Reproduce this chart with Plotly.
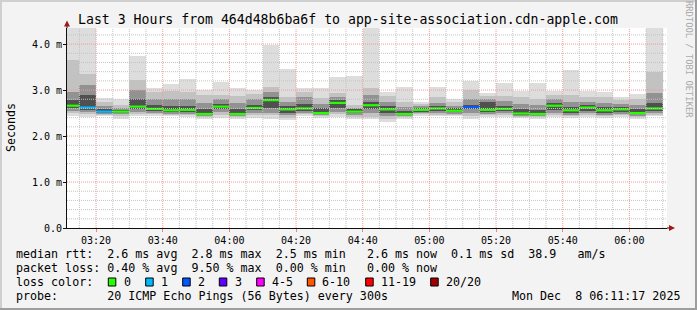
import plotly.graph_objects as go
import pandas as pd

# ---------------- data ----------------
bin_starts = pd.date_range("2025-12-08 03:10:00", periods=36, freq="5min")

ping_max = [4.6, 4.6, 2.82, 2.8, 3.74, 3.04, 3.13, 3.24, 3.0, 3.18, 3.04, 3.0,
            3.98, 3.46, 3.04, 3.04, 3.29, 3.31, 4.6, 2.96, 3.06, 2.74, 3.06, 2.8,
            3.2, 2.93, 3.15, 2.98, 3.15, 2.98, 3.43, 2.98, 2.96, 2.84, 2.91, 4.6]
upper2 = [3.65, 3.35, 2.75, 2.68, 3.22, 2.95, 2.98, 2.95, 2.9, 2.9, 2.88, 2.92,
          3.07, 2.85, 2.95, 2.82, 2.93, 2.68, 3.04, 2.88, 2.75, 2.7, 2.84, 2.74,
          3.0, 2.87, 2.88, 2.85, 2.8, 2.9, 2.89, 2.84, 2.85, 2.78, 2.8, 3.4]
upper3 = [2.95, 3.1, 2.65, 2.6, 3.0, 2.8, 2.8, 2.8, 2.72, 2.8, 2.72, 2.8,
          2.95, 2.74, 2.85, 2.7, 2.85, 2.62, 2.9, 2.75, 2.64, 2.66, 2.72, 2.66,
          2.8, 2.8, 2.76, 2.7, 2.68, 2.8, 2.73, 2.74, 2.72, 2.7, 2.68, 2.94]
upper4 = [2.78, 2.9, 2.58, 2.56, 2.8, 2.68, 2.65, 2.66, 2.58, 2.7, 2.58, 2.68,
          2.85, 2.65, 2.7, 2.6, 2.78, 2.58, 2.75, 2.65, 2.55, 2.61, 2.65, 2.6,
          2.68, 2.73, 2.66, 2.58, 2.57, 2.72, 2.63, 2.67, 2.63, 2.64, 2.58, 2.72]
median_rtt = [2.66, 2.62, 2.53, 2.53, 2.64, 2.59, 2.56, 2.57, 2.48, 2.64, 2.48, 2.61,
              2.78, 2.58, 2.6, 2.5, 2.72, 2.53, 2.67, 2.58, 2.48, 2.57, 2.6, 2.55,
              2.63, 2.57, 2.59, 2.49, 2.48, 2.66, 2.56, 2.62, 2.56, 2.58, 2.5, 2.6]
lower4 = [2.6, 2.57, 2.5, 2.5, 2.58, 2.55, 2.52, 2.53, 2.45, 2.58, 2.45, 2.56,
          2.6, 2.5, 2.55, 2.47, 2.6, 2.5, 2.58, 2.5, 2.45, 2.53, 2.55, 2.52,
          2.58, 2.52, 2.54, 2.46, 2.45, 2.56, 2.5, 2.55, 2.5, 2.53, 2.47, 2.54]
lower3 = [2.55, 2.52, 2.48, 2.47, 2.53, 2.51, 2.49, 2.49, 2.43, 2.52, 2.43, 2.5,
          2.5, 2.46, 2.5, 2.45, 2.52, 2.46, 2.5, 2.43, 2.43, 2.5, 2.5, 2.49,
          2.5, 2.48, 2.5, 2.44, 2.43, 2.5, 2.46, 2.5, 2.46, 2.49, 2.44, 2.5]
lower2 = [2.5, 2.47, 2.46, 2.43, 2.48, 2.48, 2.46, 2.45, 2.41, 2.46, 2.41, 2.45,
          2.45, 2.4, 2.47, 2.43, 2.47, 2.42, 2.42, 2.37, 2.41, 2.47, 2.46, 2.46,
          2.43, 2.45, 2.46, 2.42, 2.41, 2.45, 2.43, 2.45, 2.43, 2.45, 2.41, 2.46]
ping_min = [2.44, 2.42, 2.44, 2.38, 2.44, 2.44, 2.43, 2.42, 2.38, 2.4, 2.38, 2.4,
            2.38, 2.35, 2.43, 2.4, 2.42, 2.38, 2.36, 2.31, 2.38, 2.44, 2.43, 2.43,
            2.37, 2.42, 2.42, 2.39, 2.38, 2.41, 2.4, 2.42, 2.4, 2.42, 2.38, 2.43]
loss_count = [0, 1, 1, 0, 0, 0, 0, 0, 0, 0, 0, 0,
              0, 0, 0, 0, 0, 0, 0, 0, 0, 0, 0, 0,
              2, 0, 0, 0, 0, 0, 0, 0, 0, 0, 0, 0]

loss_labels = ["0", "1", "2", "3", "4-5", "6-10", "11-19", "20/20"]
loss_colors = ["#26ff00", "#00b8ff", "#0059ff", "#5e00ff", "#ff00ff", "#ff5500", "#ff0000", "#a10000"]

y_tick_vals = [0, 1, 2, 3, 4]
y_tick_text = ["0.0", "1.0 m", "2.0 m", "3.0 m", "4.0 m"]
x_tick_vals = pd.date_range("2025-12-08 03:20", periods=9, freq="20min")
x_tick_text = [t.strftime("%H:%M") for t in x_tick_vals]

title_text = "Last 3 Hours from 464d48b6ba6f to app-site-association.cdn-apple.com"
legend_lines = [
    "median rtt:  2.6 ms avg  2.8 ms max  2.5 ms min   2.6 ms now  0.1 ms sd  38.9   am/s",
    "packet loss: 0.40 % avg  9.50 % max  0.00 % min   0.00 % now",
    "loss color:",
    "probe:       20 ICMP Echo Pings (56 Bytes) every 300s",
]
date_text = "Mon Dec  8 06:11:17 2025"
y_title = "Seconds"
side_text = "RRDTOOL / TOBI OETIKER"

# ---------------- layout constants ----------------
W, H = 697, 310
L, R, T, B = 67, 30, 28, 82
PW, PH = W - L - R, H - T - B
FONT = "DejaVu Sans Mono"
x_range = ["2025-12-08 03:11:17", "2025-12-08 06:11:17"]
y_range = [0, 4.35]


def px(x):
    return (x - L) / PW


def py(y):
    return (H - B - y) / PH


BIN_MS = 5 * 60 * 1000
centers = bin_starts + pd.Timedelta(minutes=2.5)

fig = go.Figure()

bands = [
    (ping_min, ping_max, "#dddddd"),
    (lower2, upper2, "#c2c2c2"),
    (lower3, upper3, "#929292"),
    (lower4, upper4, "#505050"),
]
for lo, hi, col in bands:
    fig.add_trace(go.Bar(
        x=centers, y=[h - l for l, h in zip(lo, hi)], base=lo,
        width=BIN_MS, marker=dict(color=col, line=dict(width=0)),
        hoverinfo="skip", showlegend=False,
    ))


def loss_index(n):
    if n <= 3:
        return n
    if n <= 5:
        return 4
    if n <= 10:
        return 5
    if n <= 19:
        return 6
    return 7


groups = {}
for s, m, n in zip(bin_starts, median_rtt, loss_count):
    k = loss_index(n)
    gx, gy = groups.setdefault(k, ([], []))
    gx += [s, s + pd.Timedelta(minutes=5), None]
    gy += [m, m, None]
for k, (gx, gy) in groups.items():
    fig.add_trace(go.Scatter(x=gx, y=gy, mode="lines",
                             line=dict(color=loss_colors[k], width=2.2),
                             hoverinfo="skip", showlegend=False))

shapes = []
GRID = "#c4c4c4"
MGRID = "#f29a9a"
DASH = "1px,1px"
# horizontal grid lines
for i in range(1, 22):
    v = i * 0.2
    major = i % 5 == 0
    shapes.append(dict(type="line", xref="paper", yref="y", x0=0, x1=1, y0=v, y1=v,
                       layer="above",
                       line=dict(color=MGRID if major else GRID, width=1, dash=DASH)))
# vertical grid lines
major_set = set(x_tick_vals)
for t in pd.date_range("2025-12-08 03:15", "2025-12-08 06:10", freq="5min"):
    major = t in major_set
    shapes.append(dict(type="line", xref="x", yref="paper", x0=t, x1=t, y0=0, y1=1,
                       layer="above",
                       line=dict(color=MGRID if major else GRID, width=1, dash=DASH)))

# axis extensions and arrows
ARROW = "#a01818"
shapes.append(dict(type="line", xref="paper", yref="paper", x0=0, x1=0, y0=1, y1=py(25),
                   line=dict(color="#101010", width=1)))
shapes.append(dict(type="path", xref="paper", yref="paper",
                   path=f"M {px(64)} {py(26.5)} L {px(70)} {py(26.5)} L {px(67)} {py(20.5)} Z",
                   fillcolor=ARROW, line=dict(width=0)))
shapes.append(dict(type="line", xref="paper", yref="paper", x0=1, x1=px(670), y0=0, y1=0,
                   line=dict(color="#101010", width=1)))
shapes.append(dict(type="path", xref="paper", yref="paper",
                   path=f"M {px(669)} {py(225)} L {px(669)} {py(231)} L {px(675)} {py(228)} Z",
                   fillcolor=ARROW, line=dict(width=0)))

# outer frame (rrdtool shade)
shapes += [
    dict(type="rect", xref="paper", yref="paper", x0=px(0), x1=px(W), y0=py(0), y1=py(2),
         fillcolor="#cfcfcf", line=dict(width=0), layer="below"),
    dict(type="rect", xref="paper", yref="paper", x0=px(0), x1=px(2), y0=py(0), y1=py(H),
         fillcolor="#cfcfcf", line=dict(width=0), layer="below"),
    dict(type="rect", xref="paper", yref="paper", x0=px(W - 2), x1=px(W), y0=py(0), y1=py(H),
         fillcolor="#9e9e9e", line=dict(width=0), layer="below"),
    dict(type="rect", xref="paper", yref="paper", x0=px(0), x1=px(W), y0=py(H - 2), y1=py(H),
         fillcolor="#9e9e9e", line=dict(width=0), layer="below"),
]

# legend colour boxes
box_left = [108.3, 145.7, 182.7, 219.3, 256.7, 307.3, 365.7, 430.7]
label_left = [124, 161.3, 198.3, 235, 271.7, 321.7, 380.7, 445.7]
for bx, col in zip(box_left, loss_colors):
    shapes.append(dict(type="rect", xref="paper", yref="paper",
                       x0=px(bx), x1=px(bx + 7.5), y0=py(278), y1=py(286),
                       fillcolor=col, line=dict(color="#000000", width=1)))

annotations = []


def text(x, y, s, size, xanchor="left", color="#000000", angle=0):
    annotations.append(dict(x=px(x), y=py(y), xref="paper", yref="paper", text=s,
                            showarrow=False, xanchor=xanchor, yanchor="middle",
                            textangle=angle, borderpad=0, borderwidth=0,
                            font=dict(family=FONT, size=size, color=color)))


text(348, 19, title_text, 13.2, xanchor="center")
text(11, 128, y_title, 11.6, xanchor="center", angle=-90)
text(689, 59, side_text, 8.8, xanchor="center", color="#aaaaaa", angle=90)
for i, line in enumerate(legend_lines):
    text(16, [254.3, 268.3, 282.3, 295.7][i], line.replace(" ", "\u00a0"), 11.66)
for lx, lab in zip(label_left, loss_labels):
    text(lx, 282.3, lab, 11.66)
text(680, 295.7, date_text.replace(" ", "\u00a0"), 11.66, xanchor="right")

fig.update_layout(
    width=W, height=H,
    margin=dict(l=L, r=R, t=T, b=B, pad=0),
    paper_bgcolor="#f3f3f3", plot_bgcolor="#ffffff",
    barmode="overlay", bargap=0, showlegend=False,
    shapes=shapes, annotations=annotations,
    font=dict(family=FONT, size=10, color="#000000"),
)
fig.update_xaxes(type="date", range=x_range, tickvals=x_tick_vals, ticktext=x_tick_text,
                 showgrid=False, zeroline=False, showline=True, linecolor="#101010",
                 linewidth=1, ticks="outside", ticklen=3, tickcolor="#f08080",
                 tickfont=dict(family=FONT, size=10))
fig.update_yaxes(range=y_range, tickvals=y_tick_vals, ticktext=y_tick_text,
                 showgrid=False, zeroline=False, showline=True, linecolor="#101010",
                 linewidth=1, ticks="outside", ticklen=3, tickcolor="#101010",
                 tickfont=dict(family=FONT, size=10), ticklabelstandoff=-1)

fig.write_html("out.html")
